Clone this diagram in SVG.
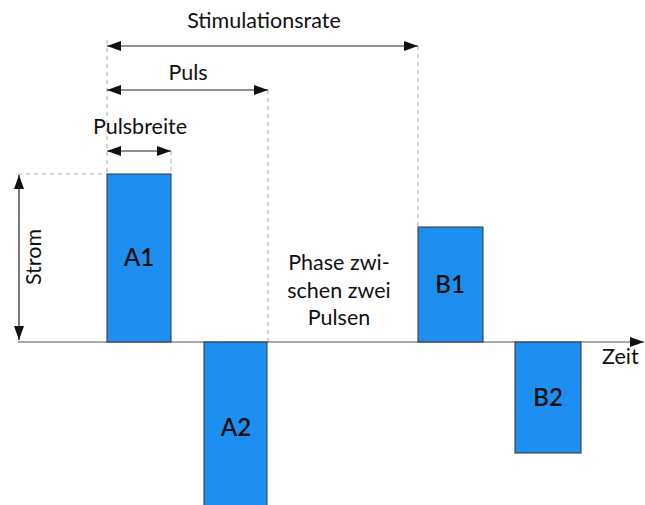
<svg xmlns="http://www.w3.org/2000/svg" width="645" height="505" viewBox="0 0 645 505">
<style>
.bar{fill:#1e8ff0;stroke:#333;stroke-width:1}
.dim{stroke:#222;stroke-width:1.2;fill:none}
.dash{stroke:#aaa;stroke-width:1;stroke-dasharray:4 4;fill:none}
.ax{stroke:#555;stroke-width:1.2;fill:none}
text{font-family:"Lato","Open Sans","Liberation Sans",sans-serif;fill:#111}
.lbl{font-size:21.5px}
.bl{font-size:24px;font-weight:600;text-anchor:middle}
</style>
<defs>
<marker id="ah" viewBox="0 0 14 10" refX="14" refY="5" markerWidth="14" markerHeight="10" markerUnits="userSpaceOnUse" orient="auto-start-reverse">
<path d="M0,0 L14,5 L0,10 Z" fill="#111"/>
</marker>
</defs>
<g id="connectors">
<line class="dash" x1="107" y1="40" x2="107" y2="174"/>
<line class="dash" x1="268" y1="90" x2="268" y2="342"/>
<line class="dash" x1="418" y1="46" x2="418" y2="227"/>
<line class="dash" x1="171" y1="151" x2="171" y2="174"/>
<line class="dash" x1="18" y1="174" x2="107" y2="174"/>
<line class="ax" x1="18" y1="342" x2="644" y2="342" marker-end="url(#ah)"/>
<line class="dim" x1="107" y1="46" x2="418" y2="46" marker-start="url(#ah)" marker-end="url(#ah)"/>
<line class="dim" x1="107" y1="90" x2="268" y2="90" marker-start="url(#ah)" marker-end="url(#ah)"/>
<line class="dim" x1="107" y1="151" x2="171" y2="151" marker-start="url(#ah)" marker-end="url(#ah)"/>
<line class="dim" x1="19" y1="175" x2="19" y2="340" marker-start="url(#ah)" marker-end="url(#ah)"/>
</g>
<g id="A1"><rect class="bar" x="107" y="174" width="64" height="168"/><text class="bl" x="139" y="266">A1</text></g>
<g id="A2"><rect class="bar" x="204" y="342" width="63" height="170"/><text class="bl" x="236" y="436">A2</text></g>
<g id="B1"><rect class="bar" x="418" y="227" width="65" height="115"/><text class="bl" x="450" y="293">B1</text></g>
<g id="B2"><rect class="bar" x="515" y="342" width="66" height="111"/><text class="bl" x="548" y="406">B2</text></g>
<g id="labels">
<text class="lbl" x="264" y="28" text-anchor="middle">Stimulationsrate</text>
<text class="lbl" x="188" y="80" text-anchor="middle">Puls</text>
<text class="lbl" x="140" y="134" text-anchor="middle">Pulsbreite</text>
<text class="lbl" transform="translate(41,257) rotate(-90)" text-anchor="middle">Strom</text>
<text class="lbl" x="339" y="270" text-anchor="middle">Phase zwi-</text>
<text class="lbl" x="339" y="298" text-anchor="middle">schen zwei</text>
<text class="lbl" x="339" y="325" text-anchor="middle">Pulsen</text>
<text class="lbl" x="602" y="364">Zeit</text>
</g>
</svg>
